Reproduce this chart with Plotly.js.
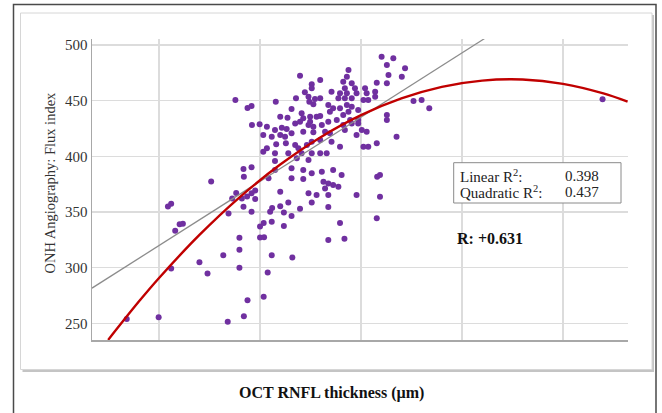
<!DOCTYPE html>
<html>
<head>
<meta charset="utf-8">
<script src="https://cdn.plot.ly/plotly-3.0.1.min.js"></script>
<style>html,body{margin:0;padding:0;background:#fff;}#chart{width:662px;height:413px;}</style>
</head>
<body>
<div id="chart"></div>
<script>
// OCT RNFL thickness (µm) for each eye
const octRnfl = [42.0,49.9,52.2,53.0,54.0,55.1,55.9,53.0,60.0,62.0,65.9,67.0,69.9,69.9,69.9,71.9,71.0,67.2,68.1,70.5,
71.8,73.8,70.9,72.9,75.0,75.0,76.0,75.9,75.9,76.9,77.9,77.5,78.0,77.9,80.0,80.9,80.9,82.0,82.8,83.0,
84.9,87.8,91.9,91.9,69.1,72.9,73.8,68.9,71.9,72.9,73.0,74.9,75.8,75.8,70.9,72.9,71.0,62.9,76.7,84.9,
89.9,87.8,87.8,86.1,83.9,87.0,87.2,88.6,89.9,88.2,78.9,82.8,85.3,80.0,81.8,85.7,87.4,89.0,89.9,83.7,
84.9,87.4,87.0,88.2,90.3,91.9,78.7,80.4,81.6,77.9,80.0,81.2,82.8,85.7,88.2,91.1,79.0,81.4,83.7,84.5,
86.6,87.8,89.9,76.7,78.7,82.0,85.3,87.8,89.9,91.5,78.7,84.1,87.0,78.7,82.8,85.7,87.8,90.3,77.1,82.8,
85.7,90.7,80.0,87.0,89.0,91.1,91.9,105.1,106.4,108.0,96.9,106.8,96.5,95.6,97.7,106.4,103.9,96.0,98.5,101.0,
92.7,94.8,96.5,98.9,101.4,103.5,94.4,96.0,97.7,100.6,101.8,103.5,91.9,93.1,94.8,96.5,97.7,99.3,92.3,94.0,
95.6,96.9,97.3,99.3,95.6,96.0,97.7,99.3,106.4,106.4,92.3,98.9,100.2,101.4,92.7,94.8,100.6,101.8,103.9,93.1,
95.2,91.9,93.1,94.4,104.0,104.7,98.9,104.7,110.9,110.1,113.0,115.0,116.9,108.8,103.9,94.8,95.9,159.8];
// ONH angiography flux index for each eye
const fluxIndex = [253.8,255.4,354.9,357.4,333.2,338.9,339.4,299.2,304.8,294.7,311.1,251.4,326.9,316.1,299.9,270.7,256.3,348.6,362.1,362.1,
363.9,361.6,354.7,350.2,336.9,327.0,327.2,340.1,273.8,295.6,311.1,350.2,353.5,341.2,355.1,337.4,349.5,358.5,346.4,309.1,
352.9,358.5,324.8,354.4,367.0,366.8,369.3,450.6,443.4,445.2,428.1,428.8,419.1,404.1,388.6,390.1,381.7,377.4,426.6,472.4,
468.6,464.7,461.1,457.5,452.1,453.5,449.1,451.5,452.1,446.7,449.1,442.5,438.6,435.6,434.7,434.1,435.6,435.6,436.2,429.6,
431.1,431.1,428.1,426.6,428.1,431.1,423.6,425.7,424.5,417.6,419.1,417.6,420.7,422.1,421.6,422.1,410.8,411.7,410.2,407.2,
410.2,413.1,414.6,407.2,402.7,402.7,402.7,402.7,402.7,402.7,395.8,398.2,396.7,387.7,389.2,387.7,384.7,386.2,380.2,380.2,
379.6,377.2,368.2,366.8,365.2,371.2,365.2,489.5,482.0,488.0,477.5,473.0,471.5,467.0,465.6,465.6,466.1,461.1,461.1,461.1,
458.0,456.6,456.6,456.6,456.6,458.0,452.1,452.1,452.1,450.6,450.6,453.5,446.1,443.1,443.1,446.1,444.6,441.6,440.1,432.6,
437.1,440.1,432.6,432.6,428.1,423.6,429.6,429.6,437.1,432.6,420.7,419.1,423.6,422.1,413.1,408.6,408.6,408.6,411.7,387.7,
383.2,375.7,374.2,372.7,381.7,383.2,365.2,363.7,479.1,471.5,449.7,450.6,443.1,417.6,344.3,340.1,326.0,451.2];

// Fit lines
const linearX = [33.4, 130.6];
const linearY = [281.6, 505.8];
const quadX = [37.4, 45, 50, 60, 70, 80, 90, 100, 110, 120, 130, 140, 150, 160, 166];
const quadY = [235.1, 269.5, 290.7, 329.4, 363.4, 392.6, 417.2, 437.0, 452.0, 462.4, 468.0, 469.0, 465.1, 456.5, 449.1];

const yTicks = [250, 300, 350, 400, 450, 500];
const xTicks = [50, 75, 100, 125, 150];

const statLabels = ['Linear R<sup>2</sup>:', 'Quadratic R<sup>2</sup>:'];
const statValues = ['0.398', '0.437'];
const corrLabel = 'R: +0.631';

const serif = 'Liberation Serif';

// plot area in pixels: x 92..628, y 39..340
const L = 92, R = 628, T = 39, B = 340;
const px = v => (v - L) / (R - L);
const py = v => (B - v) / (B - T);

const traces = [
  {x: octRnfl, y: fluxIndex, type: 'scatter', mode: 'markers',
   marker: {color: '#7030a0', size: 6}, hoverinfo: 'x+y', showlegend: false},
  {x: linearX, y: linearY, type: 'scatter', mode: 'lines',
   line: {color: '#8c8c8c', width: 1.3}, showlegend: false},
  {x: quadX, y: quadY, type: 'scatter', mode: 'lines',
   line: {color: '#c00000', width: 2.4, shape: 'spline'}, showlegend: false}
];

const annotations = [
  {text: 'ONH Angiography: Flux index', xref: 'paper', yref: 'paper', x: px(49), y: py(182.5),
   textangle: -90, showarrow: false, xanchor: 'center', yanchor: 'middle',
   font: {family: serif, size: 14.5, color: '#333'}},
  {text: '<b>OCT RNFL thickness (µm)</b>', xref: 'paper', yref: 'paper', x: px(331.5), y: py(393),
   showarrow: false, xanchor: 'center', yanchor: 'middle',
   font: {family: serif, size: 16, color: '#111'}},
  {text: statLabels[0], xref: 'paper', yref: 'paper', x: px(458), y: py(175.7),
   showarrow: false, xanchor: 'left', yanchor: 'middle', font: {family: serif, size: 15, color: '#222'}},
  {text: statValues[0], xref: 'paper', yref: 'paper', x: px(562.5), y: py(175.7),
   showarrow: false, xanchor: 'left', yanchor: 'middle', font: {family: serif, size: 15, color: '#222'}},
  {text: statLabels[1], xref: 'paper', yref: 'paper', x: px(458), y: py(192.3),
   showarrow: false, xanchor: 'left', yanchor: 'middle', font: {family: serif, size: 15, color: '#222'}},
  {text: statValues[1], xref: 'paper', yref: 'paper', x: px(562.5), y: py(192.3),
   showarrow: false, xanchor: 'left', yanchor: 'middle', font: {family: serif, size: 15, color: '#222'}},
  {text: '<b>' + corrLabel + '</b>', xref: 'paper', yref: 'paper', x: px(455), y: py(238.3),
   showarrow: false, xanchor: 'left', yanchor: 'middle', font: {family: serif, size: 16, color: '#111'}}
];

const shapes = [
  // outer frame
  {type: 'rect', xref: 'paper', yref: 'paper', layer: 'below',
   x0: px(13.5), x1: px(656), y0: py(430), y1: py(4.5),
   line: {color: '#4a4a4a', width: 1.5}, fillcolor: '#ffffff'},
  // panel shadow
  {type: 'rect', xref: 'paper', yref: 'paper', layer: 'below',
   x0: px(22.5), x1: px(654), y0: py(372), y1: py(15),
   line: {width: 0}, fillcolor: '#c4c4c4'},
  // panel
  {type: 'rect', xref: 'paper', yref: 'paper', layer: 'below',
   x0: px(20.5), x1: px(652), y0: py(369.5), y1: py(13),
   line: {color: '#d6d6d6', width: 1}, fillcolor: '#ffffff'},
  // statistics box
  {type: 'rect', xref: 'paper', yref: 'paper', layer: 'above',
   x0: px(453.7), x1: px(621), y0: py(203), y1: py(162.7),
   line: {color: '#8a8a8a', width: 1}, fillcolor: '#ffffff'}
];

const layout = {
  width: 662, height: 413,
  margin: {l: L, r: 662 - R, t: T, b: 413 - B, pad: 0},
  paper_bgcolor: '#ffffff', plot_bgcolor: 'rgba(0,0,0,0)',
  showlegend: false,
  font: {family: serif},
  xaxis: {range: [33.4, 166.1], tickvals: xTicks, showticklabels: false, ticks: '',
          showgrid: true, gridcolor: '#dcdcdc', gridwidth: 1.5, zeroline: false,
          showline: true, linecolor: '#a8a8a8', linewidth: 1.5},
  yaxis: {range: [235, 505.4], tickvals: yTicks, ticks: '',
          tickfont: {family: serif, size: 15, color: '#333'},
          showgrid: true, gridcolor: '#dcdcdc', gridwidth: 1.5, zeroline: false,
          showline: true, linecolor: '#a8a8a8', linewidth: 1.5},
  annotations: annotations,
  shapes: shapes
};

Plotly.newPlot('chart', traces, layout, {staticPlot: true, displayModeBar: false});
</script>
</body>
</html>
